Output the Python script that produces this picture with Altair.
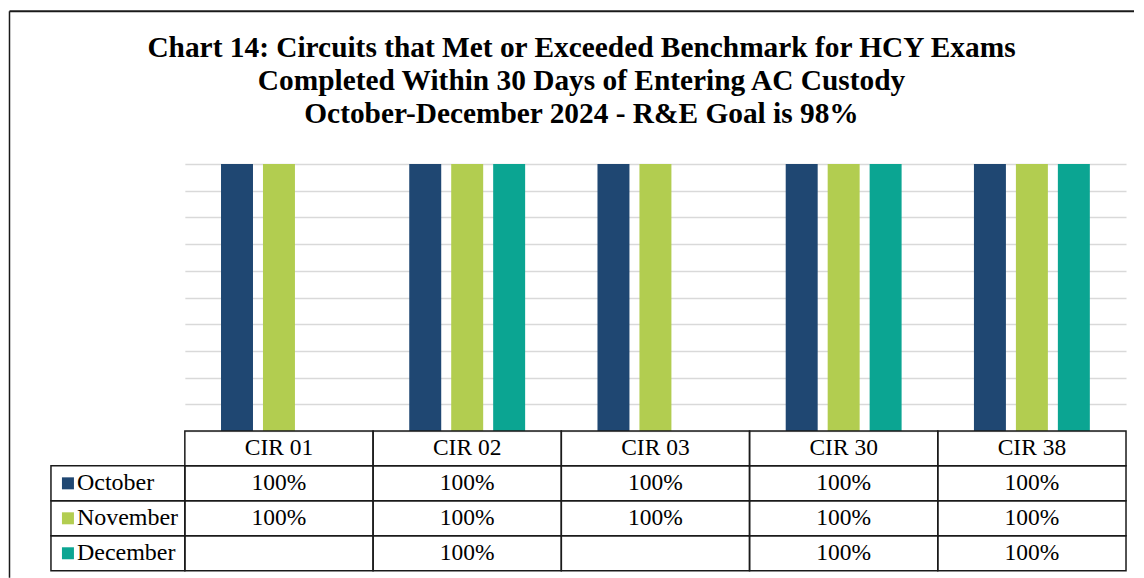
import altair as alt
import pandas as pd

# ---------------- data ----------------
CIRCUITS = ["CIR 01", "CIR 02", "CIR 03", "CIR 30", "CIR 38"]
MONTHS = ["October", "November", "December"]
OCTOBER = [100, 100, 100, 100, 100]
NOVEMBER = [100, 100, 100, 100, 100]
DECEMBER = [None, 100, None, 100, 100]
COLORS = ["#1F4772", "#B2CD50", "#0BA592"]
Y_TICKS = [0, 10, 20, 30, 40, 50, 60, 70, 80, 90, 100]
TITLE_LINES = [
    "Chart 14: Circuits that Met or Exceeded Benchmark for HCY Exams",
    "Completed Within 30 Days of Entering AC Custody",
    "October-December 2024 - R&E Goal is 98%",
]
TABLE_ROWS = ["hdr"] + MONTHS

rows = []
for m, vals in zip(MONTHS, [OCTOBER, NOVEMBER, DECEMBER]):
    for c, v in zip(CIRCUITS, vals):
        if v is not None:
            rows.append({"cir": c, "month": m, "row": m, "value": v, "label": f"{v}%"})
df = pd.DataFrame(rows)
cells_df = pd.DataFrame([{"cir": c, "row": r} for c in CIRCUITS for r in TABLE_ROWS])
header_df = pd.DataFrame({"cir": CIRCUITS, "row": ["hdr"] * len(CIRCUITS)})
legend_df = pd.DataFrame({"row": MONTHS, "month": MONTHS})
one = pd.DataFrame({"k": [0]})

FONT = "Liberation Serif"
W, H = 942, 267
TH = 140
FRAME_X = -175.5
LINE = "#1a1a1a"

x_scale = alt.Scale(domain=CIRCUITS, paddingInner=0, paddingOuter=0)
color_scale = alt.Scale(domain=MONTHS, range=COLORS)
row_scale = alt.Scale(domain=TABLE_ROWS, paddingInner=0, paddingOuter=0)

# ---------------- bar chart ----------------
bars = alt.Chart(df).mark_bar().encode(
    x=alt.X("cir:N", scale=x_scale, axis=None),
    xOffset=alt.XOffset("month:N", scale=alt.Scale(domain=MONTHS, paddingInner=0.238, paddingOuter=0.862)),
    y=alt.Y("value:Q", scale=alt.Scale(domain=[0, 100]),
            axis=alt.Axis(values=Y_TICKS, labels=False, ticks=False, domain=False,
                          grid=True, gridColor="#D9D9D9", gridWidth=1.5, title=None)),
    color=alt.Color("month:N", scale=color_scale, legend=None),
)

title = alt.Chart(one).mark_text(
    text=TITLE_LINES, font=FONT, fontSize=29.4, fontWeight="bold", lineHeight=33,
    align="center", baseline="middle", color="#000000",
).encode(x=alt.value(397), y=alt.value(-116))

frame_top = alt.Chart(one).mark_rule(color=LINE, strokeWidth=2).encode(
    x=alt.value(FRAME_X), x2=alt.value(950), y=alt.value(-153))
frame_left = alt.Chart(one).mark_rule(color=LINE, strokeWidth=1.5).encode(
    x=alt.value(FRAME_X), y=alt.value(-153), y2=alt.value(414))

top = alt.layer(bars, title, frame_top, frame_left).properties(width=W, height=H)

# ---------------- data table ----------------
ty = alt.Y("row:N", scale=row_scale, axis=None)
tx = alt.X("cir:N", scale=x_scale, axis=None)

cells = alt.Chart(cells_df).mark_rect(fillOpacity=0, stroke=LINE, strokeWidth=1.5).encode(x=tx, y=ty)
leg_cells = alt.Chart(legend_df).mark_rect(fillOpacity=0, stroke=LINE, strokeWidth=1.5).encode(
    x=alt.value(-134), x2=alt.value(0), y=ty)
header = alt.Chart(header_df).mark_text(font=FONT, fontSize=23.5, baseline="middle", color="#000000").encode(
    x=tx, y=ty, text="cir:N")
values = alt.Chart(df).mark_text(font=FONT, fontSize=23.5, baseline="middle", color="#000000").encode(
    x=tx, y=ty, text="label:N")
swatches = alt.Chart(legend_df).mark_square(size=144, opacity=1).encode(
    x=alt.value(-117), y=ty, color=alt.Color("month:N", scale=color_scale, legend=None))
leg_text = alt.Chart(legend_df).mark_text(font=FONT, fontSize=24, align="left", baseline="middle",
                                          color="#000000").encode(
    x=alt.value(-108), y=ty, text="row:N")

table = alt.layer(cells, leg_cells, header, values, swatches, leg_text).properties(
    width=W, height=TH)

chart = alt.vconcat(top, table, spacing=0, bounds="flush").properties(
    padding={"left": 0, "top": 1, "right": 0, "bottom": 0}
).configure_view(stroke="transparent")

chart.save("out.html", embed_options={"renderer": "svg", "actions": False})
